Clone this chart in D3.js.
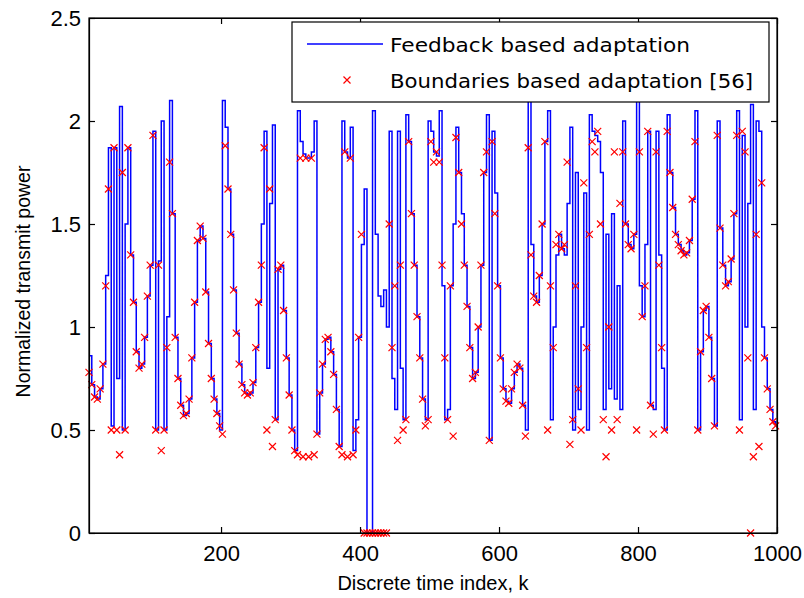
<!DOCTYPE html>
<html>
<head>
<meta charset="utf-8">
<script src="https://cdn.jsdelivr.net/npm/d3@7"></script>
<style>
  body { margin: 0; background: #fff; }
  svg { display: block; }
  .axis text { font-family: "Liberation Sans", Arial, sans-serif; font-size: 22px; fill: #000; }
  .axis path, .axis line { stroke: #000; stroke-width: 1.2; }
</style>
</head>
<body>
<svg id="svg" width="804" height="598"></svg>
<script>
// DATA //

// discrete time index sampled every 4 steps, starting at k = 10
const kStart = 10;
const kStep = 4;

// Boundaries based adaptation [56] (red x markers)
const boundariesPower = [
  0.78, 0.72, 0.66, 0.65, 0.70, 0.82, 1.20, 1.67, 0.50, 1.87,
  0.50, 0.38, 1.75, 0.50, 1.87, 1.35, 1.12, 0.88, 0.80, 0.82,
  0.95, 1.15, 1.30, 1.93, 0.50, 1.30, 0.40, 0.50, 0.90, 1.80,
  1.55, 0.95, 0.75, 0.62, 0.57, 0.58, 0.65, 0.85, 1.12, 1.42,
  1.49, 1.43, 1.17, 0.92, 0.75, 0.65, 0.58, 0.52, 0.48, 1.88,
  1.67, 1.45, 1.18, 0.97, 0.82, 0.72, 0.68, 0.67, 0.68, 0.73,
  0.90, 1.12, 1.30, 1.87, 0.50, 1.67, 0.42, 0.55, 1.28, 1.30,
  1.08, 0.85, 0.67, 0.50, 0.40, 0.38, 1.82, 0.37, 1.82, 0.37,
  1.82, 0.38, 0.48, 0.68, 0.82, 0.94, 0.95, 0.88, 0.77, 0.60,
  0.42, 0.38, 1.85, 0.37, 1.82, 0.38, 0.50, 0.95, 1.45, 0,
  0, 0, 0, 0, 0, 0, 0, 0, 1.50, 0.90,
  1.20, 0.45, 1.30, 0.50, 0.55, 1.90, 1.55, 1.30, 1.05, 0.85,
  0.65, 0.52, 0.55, 1.90, 1.80, 1.85, 1.80, 1.30, 0.85, 0.55,
  1.20, 0.47, 1.92, 1.75, 1.50, 1.30, 1.10, 0.90, 0.75, 0.78,
  1.00, 1.30, 1.75, 1.85, 0.45, 1.90, 1.55, 1.20, 0.85, 0.70,
  0.64, 0.63, 0.70, 0.78, 0.82, 0.80, 0.62, 0.47, 1.87, 1.35,
  1.15, 1.12, 1.25, 1.50, 1.90, 0.50, 1.20, 0.90, 1.40, 1.45,
  1.38, 1.40, 1.80, 0.43, 0.55, 1.20, 0.70, 0.50, 1.70, 0.90,
  1.45, 1.90, 1.85, 1.95, 1.50, 0.55, 0.37, 1.00, 0.50, 1.85,
  0.55, 1.60, 1.85, 1.50, 1.40, 1.38, 1.45, 0.50, 1.85, 1.05,
  1.20, 1.95, 0.62, 0.48, 1.85, 1.30, 0.90, 0.50, 1.95, 1.75,
  1.58, 1.45, 1.40, 1.37, 1.35, 1.36, 1.42, 1.62, 1.90, 0.50,
  0.88, 1.08, 1.10, 0.95, 0.75, 0.52, 1.93, 1.48, 1.30, 1.20,
  1.22, 1.33, 1.55, 1.93, 0.50, 1.95, 1.85, 0.85, 0, 0.37,
  1.45, 0.42, 1.70, 0.85, 0.70, 0.60, 0.54, 0.52
];

// Feedback based adaptation (blue stairs line)
const feedbackPower = [
  0.86, 0.72, 0.66, 0.65, 0.70, 0.82, 1.25, 1.87, 0.52, 1.87,
  0.75, 2.07, 0.50, 1.50, 1.87, 1.35, 1.12, 0.88, 0.80, 0.82,
  0.95, 1.15, 1.30, 1.95, 0.50, 1.32, 2.00, 0.50, 1.05, 2.10,
  1.55, 0.95, 0.75, 0.62, 0.57, 0.58, 0.65, 0.85, 1.12, 1.42,
  1.49, 1.43, 1.17, 0.92, 0.75, 0.65, 0.58, 0.50, 2.10, 1.97,
  1.67, 1.45, 1.18, 0.97, 0.82, 0.72, 0.68, 0.67, 0.68, 0.73,
  0.90, 1.12, 1.50, 1.95, 0.80, 1.60, 1.98, 0.55, 1.28, 1.30,
  1.08, 0.85, 0.67, 0.50, 0.40, 2.05, 1.90, 1.84, 1.82, 1.82,
  1.85, 2.00, 0.48, 0.68, 0.82, 0.94, 0.95, 0.88, 0.77, 0.60,
  0.42, 2.00, 1.85, 1.82, 1.97, 0.40, 0.55, 0.95, 1.40, 1.67,
  0, 0, 2.05, 1.45, 1.15, 1.10, 1.18, 1.00, 1.95, 0.75,
  0.60, 1.95, 0.80, 0.55, 2.03, 1.90, 1.55, 1.30, 1.05, 0.85,
  0.65, 0.55, 2.00, 1.95, 1.85, 1.83, 2.05, 1.20, 0.55, 0.60,
  1.20, 1.50, 1.97, 1.75, 1.55, 1.30, 1.10, 0.90, 0.75, 0.78,
  1.00, 1.30, 1.75, 2.03, 0.45, 1.95, 1.65, 1.20, 0.85, 0.70,
  0.64, 0.63, 0.70, 0.78, 0.82, 0.80, 0.62, 0.50, 2.10, 1.40,
  1.15, 1.12, 1.25, 1.50, 1.90, 2.05, 0.55, 1.00, 1.35, 1.45,
  1.38, 1.35, 1.60, 1.97, 0.50, 1.75, 0.60, 1.00, 1.65, 0.50,
  2.03, 1.95, 1.93, 1.90, 1.75, 0.60, 1.45, 0.70, 1.55, 0.65,
  1.20, 0.60, 2.00, 1.50, 1.40, 1.38, 1.45, 2.10, 1.20, 1.05,
  1.40, 1.95, 0.62, 0.60, 1.95, 1.35, 0.80, 0.50, 2.03, 1.75,
  1.58, 1.45, 1.40, 1.37, 1.35, 1.36, 1.42, 1.62, 2.05, 0.50,
  0.88, 1.08, 1.10, 0.95, 0.75, 0.52, 2.00, 1.48, 1.30, 1.20,
  1.22, 1.33, 1.55, 2.05, 0.55, 1.93, 1.00, 1.60, 2.08, 0.60,
  2.00, 1.95, 1.00, 0.85, 0.70, 0.60, 0.54, 0.52
];

const xTicks = [200, 400, 600, 800, 1000];
const yTicks = [0, 0.5, 1, 1.5, 2, 2.5];
const seriesNames = ["Feedback based adaptation", "Boundaries based adaptation [56]"];

// MAIN //

const svg = d3.select("#svg");

// plot box in pixels
let margin = {top: 18, right: 27, bottom: 65, left: 89};
let width = 804 - margin.left - margin.right;
let height = 598 - margin.top - margin.bottom;

const g = svg.append("g")
  .attr("transform", "translate(" + margin.left + "," + margin.top + ")");

let x = d3.scaleLinear().domain([10, 1000]).range([0, width]);
let y = d3.scaleLinear().domain([0, 2.5]).range([height, 0]);

// build point tables from the arrays
let redPts = boundariesPower.map((v, i) => ({k: kStart + i * kStep, v: v}));
let bluePts = feedbackPower.map((v, i) => ({k: kStart + i * kStep, v: v}));

// Clip to the axes box
g.append("clipPath").attr("id", "clip")
  .append("rect").attr("x", -4).attr("y", -4).attr("width", width + 8).attr("height", height + 8);

const plot = g.append("g").attr("clip-path", "url(#clip)");

// blue stairs line
let line = d3.line()
  .x(d => x(d.k))
  .y(d => y(d.v))
  .curve(d3.curveStepAfter);

plot.append("path")
  .datum(bluePts)
  .attr("fill", "none")
  .attr("stroke", "#0000ff")
  .attr("stroke-width", 1.5)
  .attr("d", line);

// red x markers
let ms = 3.5;
let cross = "M" + (-ms) + "," + (-ms) + "L" + ms + "," + ms + "M" + (-ms) + "," + ms + "L" + ms + "," + (-ms);

plot.append("g")
  .selectAll("path")
  .data(redPts)
  .enter()
  .append("path")
  .attr("transform", d => `translate(${x(d.k)},${y(d.v)})`)
  .attr("d", cross)
  .attr("stroke", "#ff0000")
  .attr("stroke-width", 1.2)
  .attr("fill", "none");

// Axes (ticks inward, box all round)
g.append("g")
  .attr("class", "axis")
  .attr("transform", `translate(0,${height})`)
  .call(d3.axisBottom(x).tickValues(xTicks).tickSizeInner(-6).tickSizeOuter(0).tickPadding(12)
    .tickFormat(d => String(d)));

g.append("g")
  .attr("class", "axis")
  .call(d3.axisTop(x).tickValues(xTicks).tickSizeInner(-6).tickSizeOuter(0).tickFormat(""));

g.append("g")
  .attr("class", "axis")
  .call(d3.axisLeft(y).tickValues(yTicks).tickSizeInner(-6).tickSizeOuter(0).tickPadding(8)
    .tickFormat(d => String(d)));

g.append("g")
  .attr("class", "axis")
  .attr("transform", `translate(${width},0)`)
  .call(d3.axisRight(y).tickValues(yTicks).tickSizeInner(-6).tickSizeOuter(0).tickFormat(""));

g.append("rect")
  .attr("width", width)
  .attr("height", height)
  .attr("fill", "none")
  .attr("stroke", "#000")
  .attr("stroke-width", 1.2);

// Axis titles
svg.append("text")
  .attr("x", margin.left + width / 2)
  .attr("y", 590)
  .attr("text-anchor", "middle")
  .style("font-family", "Liberation Sans, Arial, sans-serif")
  .style("font-size", "20px")
  .text("Discrete time index, k");

svg.append("text")
  .attr("transform", "translate(30," + (margin.top + height / 2 + 6) + ") rotate(-90)")
  .attr("text-anchor", "middle")
  .style("font-family", "Liberation Sans, Arial, sans-serif")
  .style("font-size", "19.5px")
  .text("Normalized transmit power");

// Legend
let legend = svg.append("g").attr("class", "legend");

legend.append("rect")
  .attr("x", 292)
  .attr("y", 22)
  .attr("width", 477)
  .attr("height", 80)
  .attr("fill", "#fff")
  .attr("stroke", "#000")
  .attr("stroke-width", 1.2);

legend.append("line")
  .attr("x1", 307).attr("x2", 383)
  .attr("y1", 44).attr("y2", 44)
  .attr("stroke", "#0000ff")
  .attr("stroke-width", 1.5);

legend.append("path")
  .attr("transform", "translate(347,80)")
  .attr("d", cross)
  .attr("stroke", "#ff0000")
  .attr("stroke-width", 1.2)
  .attr("fill", "none");

legend.selectAll(".ltext")
  .data(seriesNames)
  .enter()
  .append("text")
  .attr("class", "ltext")
  .attr("x", 390)
  .attr("y", (d, i) => 52 + i * 36)
  .attr("textLength", (d, i) => i === 0 ? 300 : 363)
  .attr("lengthAdjust", "spacingAndGlyphs")
  .style("font-family", "DejaVu Sans, sans-serif")
  .style("font-size", "20px")
  .text(d => d);
</script>
</body>
</html>
